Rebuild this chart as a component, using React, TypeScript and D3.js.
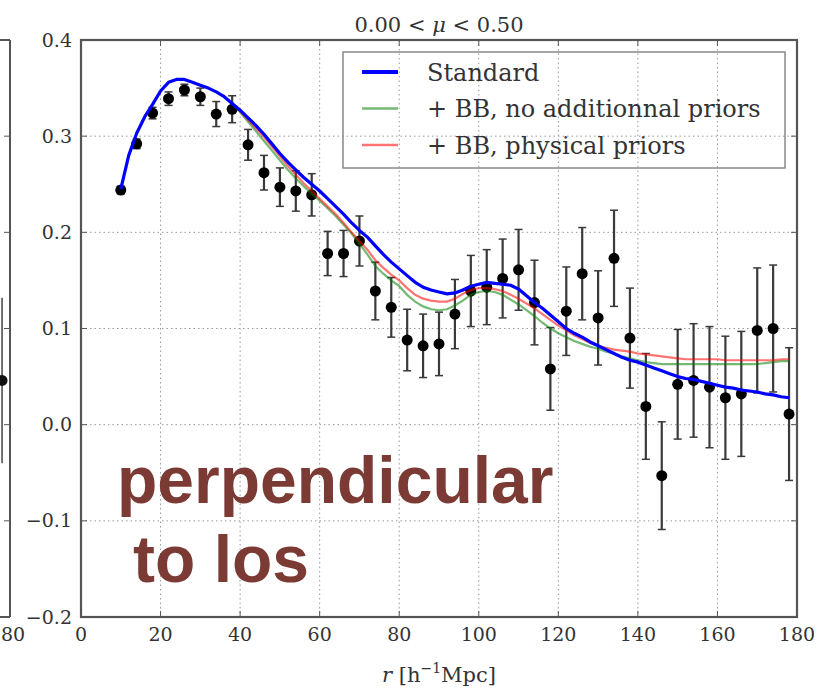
import React from "react";
import * as d3 from "d3";

// ---- data ----
const pointR = [10, 14, 18, 22, 26, 30, 34, 38, 42, 46, 50, 54, 58, 62, 66, 70, 74, 78, 82, 86, 90, 94, 98, 102, 106, 110, 114, 118, 122, 126, 130, 134, 138, 142, 146, 150, 154, 158, 162, 166, 170, 174, 178];
const pointV = [0.244, 0.292, 0.324, 0.339, 0.348, 0.341, 0.323, 0.328, 0.291, 0.262, 0.247, 0.243, 0.239, 0.178, 0.178, 0.191, 0.139, 0.122, 0.088, 0.082, 0.084, 0.115, 0.139, 0.143, 0.152, 0.161, 0.127, 0.058, 0.118, 0.157, 0.111, 0.173, 0.090, 0.019, -0.053, 0.042, 0.046, 0.039, 0.028, 0.032, 0.098, 0.100, 0.011];
const pointErr = [0.004, 0.005, 0.006, 0.007, 0.006, 0.009, 0.013, 0.014, 0.016, 0.018, 0.020, 0.021, 0.022, 0.023, 0.024, 0.026, 0.030, 0.031, 0.032, 0.033, 0.033, 0.036, 0.037, 0.039, 0.041, 0.042, 0.044, 0.043, 0.046, 0.048, 0.049, 0.050, 0.052, 0.055, 0.056, 0.057, 0.059, 0.063, 0.064, 0.065, 0.065, 0.066, 0.069];

const blueR = [10, 12, 14, 16, 18, 20, 22, 24, 26, 28, 30, 32, 34, 36, 38, 40, 42, 44, 46, 48, 50, 52, 54, 56, 58, 60, 62, 64, 66, 68, 70, 72, 74, 76, 78, 80, 82, 84, 86, 88, 90, 92, 94, 96, 98, 100, 102, 104, 106, 108, 110, 112, 114, 116, 118, 120, 122, 124, 126, 128, 130, 132, 134, 136, 138, 140, 142, 144, 146, 148, 150, 152, 154, 156, 158, 160, 162, 164, 166, 168, 170, 172, 174, 176, 178];
const blueV = [0.245, 0.280, 0.303, 0.320, 0.333, 0.347, 0.356, 0.359, 0.359, 0.356, 0.353, 0.350, 0.346, 0.341, 0.334, 0.327, 0.319, 0.311, 0.302, 0.292, 0.282, 0.273, 0.265, 0.257, 0.250, 0.243, 0.235, 0.227, 0.219, 0.210, 0.202, 0.195, 0.186, 0.177, 0.169, 0.162, 0.155, 0.148, 0.143, 0.140, 0.138, 0.136, 0.137, 0.140, 0.144, 0.146, 0.148, 0.147, 0.146, 0.145, 0.141, 0.134, 0.127, 0.121, 0.114, 0.107, 0.100, 0.095, 0.091, 0.086, 0.082, 0.078, 0.074, 0.070, 0.067, 0.065, 0.062, 0.059, 0.056, 0.053, 0.050, 0.048, 0.047, 0.045, 0.043, 0.041, 0.039, 0.038, 0.036, 0.035, 0.034, 0.032, 0.031, 0.029, 0.028];

const bbR = [38, 40, 42, 44, 46, 48, 50, 52, 54, 56, 58, 60, 62, 64, 66, 68, 70, 72, 74, 76, 78, 80, 82, 84, 86, 88, 90, 92, 94, 96, 98, 100, 102, 104, 106, 108, 110, 112, 114, 116, 118, 120, 122, 124, 126, 128, 130, 132, 134, 136, 138, 140, 142, 144, 146, 148, 150, 152, 154, 156, 158, 160, 162, 164, 166, 168, 170, 172, 174, 176, 178];
const redV = [0.334, 0.326, 0.317, 0.308, 0.299, 0.289, 0.279, 0.269, 0.260, 0.251, 0.243, 0.235, 0.227, 0.219, 0.210, 0.200, 0.191, 0.182, 0.171, 0.163, 0.156, 0.150, 0.142, 0.135, 0.131, 0.129, 0.128, 0.128, 0.131, 0.136, 0.140, 0.142, 0.142, 0.141, 0.139, 0.135, 0.131, 0.126, 0.121, 0.115, 0.109, 0.103, 0.098, 0.093, 0.089, 0.085, 0.082, 0.080, 0.078, 0.077, 0.076, 0.074, 0.073, 0.072, 0.071, 0.070, 0.069, 0.068, 0.068, 0.068, 0.068, 0.068, 0.067, 0.067, 0.067, 0.067, 0.067, 0.067, 0.067, 0.068, 0.068];
const greenV = [0.334, 0.325, 0.315, 0.305, 0.295, 0.285, 0.275, 0.265, 0.256, 0.248, 0.240, 0.233, 0.225, 0.217, 0.208, 0.199, 0.188, 0.177, 0.165, 0.157, 0.150, 0.144, 0.135, 0.128, 0.123, 0.120, 0.119, 0.120, 0.124, 0.129, 0.135, 0.138, 0.139, 0.138, 0.135, 0.130, 0.125, 0.119, 0.113, 0.106, 0.100, 0.095, 0.091, 0.087, 0.084, 0.081, 0.079, 0.076, 0.074, 0.071, 0.069, 0.067, 0.065, 0.064, 0.063, 0.063, 0.063, 0.063, 0.063, 0.063, 0.063, 0.063, 0.063, 0.063, 0.063, 0.063, 0.063, 0.064, 0.065, 0.066, 0.066];

const seriesNames = ["Standard", "+ BB, no additionnal priors", "+ BB, physical priors"];
const xTicks = [0, 20, 40, 60, 80, 100, 120, 140, 160, 180];
const yTicks = [-0.2, -0.1, 0.0, 0.1, 0.2, 0.3, 0.4];
const yTickLabels = ["\u22120.2", "\u22120.1", "0.0", "0.1", "0.2", "0.3", "0.4"];
const noteLines = ["perpendicular", "to los"];

// neighbouring (cut-off) panel on the left
const neighborR = [178];
const neighborV = [0.046];
const neighborErr = [0.086];
const neighborTickLabel = "80";

const W = 839, H = 692;
const serif = "'DejaVu Serif', serif";
const axisColor = "#555";

export default function App() {
  const x = d3.scaleLinear().domain([0, 180]).range([81, 797]);
  const y = d3.scaleLinear().domain([-0.2, 0.4]).range([617, 40]);
  const xl = d3.scaleLinear().domain([0, 180]).range([10 - 716, 10]);

  const line = (rs: number[], vs: number[]) =>
    d3.line<number>().x((_, i) => x(rs[i])).y((v) => y(v))(vs) || "";

  const [x0, x1] = x.range();
  const [yb, yt] = y.range();
  const tick = 6;

  return (
    <svg width={W} height={H} style={{ position: "absolute", left: 0, top: 0, background: "#fff" }}>
      {/* neighbour panel fragment */}
      <g>
        <line x1={0} x2={xl(180)} y1={yt} y2={yt} stroke={axisColor} strokeWidth={2} />
        <line x1={0} x2={xl(180)} y1={yb} y2={yb} stroke={axisColor} strokeWidth={2} />
        <line x1={xl(180)} x2={xl(180)} y1={yt} y2={yb} stroke={axisColor} strokeWidth={2} />
        {yTicks.slice(1, -1).map((t) => (
          <line key={"nt" + t} x1={xl(180)} x2={xl(180) - tick} y1={y(t)} y2={y(t)} stroke={axisColor} strokeWidth={1} />
        ))}
        {neighborR.map((r, i) => (
          <g key={"nb" + i}>
            <line x1={xl(r)} x2={xl(r)} y1={y(neighborV[i] - neighborErr[i])} y2={y(neighborV[i] + neighborErr[i])} stroke="#444" strokeWidth={1.5} />
            <circle cx={xl(r)} cy={y(neighborV[i])} r={5.5} fill="#111" />
          </g>
        ))}
        <text x={1} y={641} textAnchor="start" fontFamily={serif} fontSize={19} fill="#333">{neighborTickLabel}</text>
      </g>

      {/* grid */}
      {xTicks.slice(1, -1).map((t) => (
        <line key={"gx" + t} x1={x(t)} x2={x(t)} y1={yt} y2={yb} stroke="#999" strokeWidth={1} strokeDasharray="1.5,3" />
      ))}
      {yTicks.slice(1, -1).map((t) => (
        <line key={"gy" + t} x1={x0} x2={x1} y1={y(t)} y2={y(t)} stroke="#999" strokeWidth={1} strokeDasharray="1.5,3" />
      ))}

      {/* annotation */}
      <g fontFamily="'Liberation Sans', Arial, sans-serif" fontWeight="bold" fontSize={66} fill="#7b3a33">
        <text x={117} y={503}>{noteLines[0]}</text>
        <text x={133} y={582}>{noteLines[1]}</text>
      </g>

      {/* error bars + points */}
      {pointR.map((r, i) => {
        const cx = x(r);
        const lo = y(pointV[i] - pointErr[i]);
        const hi = y(pointV[i] + pointErr[i]);
        return (
          <g key={"p" + i}>
            <line x1={cx} x2={cx} y1={lo} y2={hi} stroke="#3a3a3a" strokeWidth={2.2} />
            <line x1={cx - 4} x2={cx + 4} y1={lo} y2={lo} stroke="#3a3a3a" strokeWidth={1.5} />
            <line x1={cx - 4} x2={cx + 4} y1={hi} y2={hi} stroke="#3a3a3a" strokeWidth={1.5} />
            <circle cx={cx} cy={y(pointV[i])} r={5.5} fill="#000" />
          </g>
        );
      })}

      {/* model curves */}
      <path d={line(bbR, greenV)} fill="none" stroke="#008000" strokeOpacity={0.55} strokeWidth={2.2} />
      <path d={line(bbR, redV)} fill="none" stroke="#ff0000" strokeOpacity={0.55} strokeWidth={2.2} />
      <path d={line(blueR, blueV)} fill="none" stroke="#0000ff" strokeWidth={3.2} strokeLinejoin="round" />

      {/* spines */}
      <rect x={x0} y={yt} width={x1 - x0} height={yb - yt} fill="none" stroke={axisColor} strokeWidth={2.2} />
      {/* ticks */}
      {xTicks.slice(1, -1).map((t) => (
        <g key={"tx" + t}>
          <line x1={x(t)} x2={x(t)} y1={yb} y2={yb - tick} stroke={axisColor} strokeWidth={1} />
          <line x1={x(t)} x2={x(t)} y1={yt} y2={yt + tick} stroke={axisColor} strokeWidth={1} />
        </g>
      ))}
      {yTicks.slice(1, -1).map((t) => (
        <g key={"ty" + t}>
          <line x1={x0} x2={x0 + tick} y1={y(t)} y2={y(t)} stroke={axisColor} strokeWidth={1} />
          <line x1={x1} x2={x1 - tick} y1={y(t)} y2={y(t)} stroke={axisColor} strokeWidth={1} />
        </g>
      ))}

      {/* tick labels */}
      <g fontFamily={serif} fontSize={19} fill="#333">
        {xTicks.map((t) => (
          <text key={"lx" + t} x={x(t)} y={641} textAnchor="middle">{t}</text>
        ))}
        {yTicks.map((t, i) => (
          <text key={"ly" + t} x={72} y={y(t)} dy="0.35em" textAnchor="end">{yTickLabels[i]}</text>
        ))}
      </g>

      {/* title */}
      <text x={(x0 + x1) / 2} y={32} textAnchor="middle" fontFamily={serif} fontSize={21} fill="#333">
        <tspan>{"0.00 < "}</tspan>
        <tspan fontStyle="italic">{"\u03bc"}</tspan>
        <tspan>{" < 0.50"}</tspan>
      </text>

      {/* x label */}
      <text x={(x0 + x1) / 2} y={682} textAnchor="middle" fontFamily={serif} fontSize={21} fill="#333">
        <tspan fontStyle="italic">r</tspan>
        <tspan> [h</tspan>
        <tspan fontSize={14} dy={-9}>{"\u22121"}</tspan>
        <tspan dy={9}>Mpc]</tspan>
      </text>

      {/* legend */}
      <g>
        <rect x={343} y={52} width={442} height={116} fill="none" stroke="#888" strokeWidth={1.5} />
        {seriesNames.map((name, i) => {
          const ly = 72 + i * 36.5;
          const col = ["#0000ff", "#008000", "#ff0000"][i];
          return (
            <g key={"lg" + i}>
              <line x1={362} x2={398} y1={ly} y2={ly} stroke={col} strokeOpacity={i === 0 ? 1 : 0.55} strokeWidth={i === 0 ? 4 : 2.5} />
              <text x={427} y={ly} dy="0.36em" fontFamily={serif} fontSize={24} fill="#333">{name}</text>
            </g>
          );
        })}
      </g>
    </svg>
  );
}
